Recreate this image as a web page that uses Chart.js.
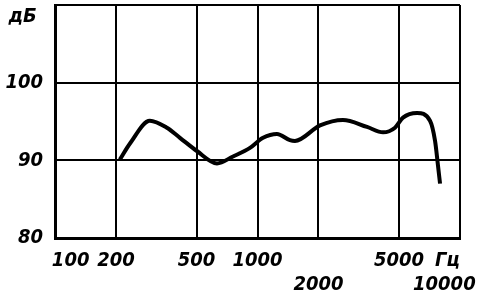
<!DOCTYPE html>
<html>
<head>
<meta charset="utf-8">
<script src="https://cdn.jsdelivr.net/npm/chart.js@4/dist/chart.umd.min.js"></script>
<style>
  html, body { margin: 0; padding: 0; background: #fff; }
  #wrap { width: 483px; height: 300px; position: relative; }
</style>
</head>
<body>
<div id="wrap"><canvas id="chart-afc"></canvas></div>
<script>
// частотная характеристика, дБ
var freq = [209, 235, 294, 357, 414, 502, 631, 757, 918, 1065, 1248, 1446, 1531, 2036, 2643, 3473, 4168, 4775, 5230, 6134, 7110, 7530, 7780, 7970];
var level = [90.1, 92.2, 95.1, 94.2, 92.9, 91.2, 89.6, 90.5, 91.6, 92.9, 93.4, 92.6, 92.5, 94.5, 95.2, 94.3, 93.6, 94.2, 95.5, 96.1, 95.1, 92.5, 89.4, 87.0];

var xTicks = [100, 200, 500, 1000, 2000, 5000, 10000];
var xLabels = ['     100', '200', '500', '1000', ['', '2000'], '5000', ['Гц    ', '10000     ']];
var yTicks = [80, 90, 100, 110];
var yLabels = ['80', '90', '100', ['', 'дБ ']];

var pts = freq.map(function(f, i) { return { x: f, y: level[i] }; });
var fnt = { family: "'DejaVu Sans Condensed', 'DejaVu Sans', sans-serif", size: 20, style: 'italic', weight: 'bold' };

function noPad(s) {
  s.paddingLeft = 0; s.paddingRight = 0; s.paddingTop = 0; s.paddingBottom = 0;
}

new Chart(document.getElementById('chart-afc').getContext('2d'), {
  type: 'line',
  data: {
    datasets: [{
      data: pts,
      borderColor: '#000',
      borderWidth: 4,
      pointRadius: 0,
      fill: false,
      cubicInterpolationMode: 'monotone'
    }]
  },
  options: {
    responsive: true,
    maintainAspectRatio: false,
    animation: false,
    layout: { padding: { top: 5, right: 23, left: 0, bottom: 0 } },
    plugins: { legend: { display: false }, tooltip: { enabled: false } },
    scales: {
      x: {
        type: 'logarithmic',
        min: 100,
        max: 10000,
        afterBuildTicks: function(s) { s.ticks = xTicks.map(function(v) { return { value: v }; }); },
        afterFit: function(s) { s.height = 62; noPad(s); },
        border: { color: '#000', width: 3 },
        grid: { color: '#000', lineWidth: 2, drawTicks: false },
        ticks: {
          color: '#000',
          font: fnt,
          padding: 11,
          maxRotation: 0,
          autoSkip: false,
          callback: function(v) { var i = xTicks.indexOf(v); return i >= 0 ? xLabels[i] : ''; }
        }
      },
      y: {
        min: 80,
        max: 110,
        afterBuildTicks: function(s) { s.ticks = yTicks.map(function(v) { return { value: v }; }); },
        afterFit: function(s) { s.width = 55; noPad(s); },
        border: { color: '#000', width: 3 },
        grid: { color: '#000', lineWidth: 2, drawTicks: false },
        ticks: {
          color: '#000',
          font: fnt,
          padding: 12,
          callback: function(v) { var i = yTicks.indexOf(v); return i >= 0 ? yLabels[i] : ''; }
        }
      }
    }
  }
});
</script>
</body>
</html>
